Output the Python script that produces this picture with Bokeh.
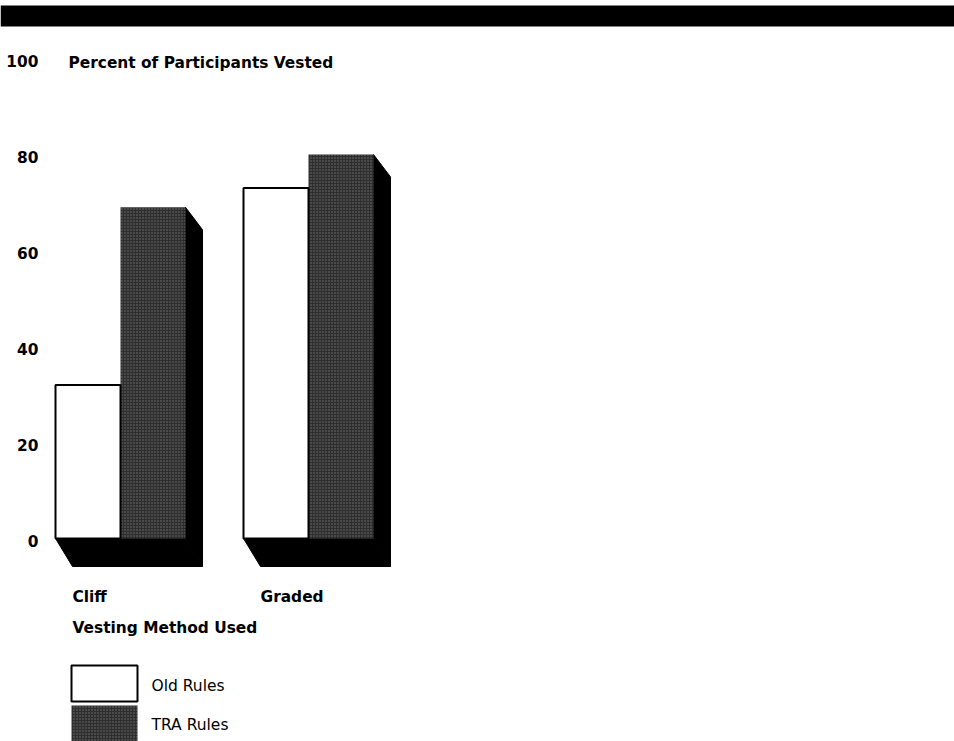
from bokeh.plotting import figure
from bokeh.models import Range1d
from bokeh.core.properties import value
from bokeh.embed import file_html
from bokeh.resources import INLINE

# ---- data ----
categories = ["Cliff", "Graded"]
old_rules = [32, 73]
tra_rules = [69, 80]
series_names = ["Old Rules", "TRA Rules"]
y_ticks = [0, 20, 40, 60, 80, 100]
y_tick_labels = ["0", "20", "40", "60", "80", "100"]
title_text = "Percent of Participants Vested"
x_title = "Vesting Method Used"

# ---- layout constants (pixels) ----
W, H = 954, 741
PX_PER_UNIT = 4.8
ZERO_PX = 538  # pixel row of value 0 (from top)
def py(pix):  # pixel row -> data value
    return (ZERO_PX - pix) / PX_PER_UNIT

group_left = [55, 243]
bar_w = 65
depth_dx = 17
depth_dy = 28 / PX_PER_UNIT

FONT = value("DejaVu Sans")

p = figure(width=W, height=H, output_backend="svg", toolbar_location=None,
           x_range=Range1d(0, W), y_range=Range1d(py(H), py(0)),
           x_axis_type=None, y_axis_type=None, min_border=0,
           outline_line_color=None, background_fill_color="white",
           border_fill_color="white")
p.grid.visible = False

# top black band
p.quad(left=[0], right=[W], bottom=[py(26)], top=[py(5)],
       fill_color="black", line_color=None)

TRA_FILL = dict(fill_color="#2e2e2e", hatch_pattern="dot", hatch_color="#b8b8b8",
                hatch_scale=3, hatch_weight=1, hatch_alpha=0.5, line_color=None)

for i, cat in enumerate(categories):
    L = group_left[i]
    M = L + bar_w
    R = M + bar_w
    o, t = old_rules[i], tra_rules[i]
    # floor + side (black 3D parts)
    p.patch([L, R, R + depth_dx, L + depth_dx], [0, 0, -depth_dy, -depth_dy],
            fill_color="black", line_color="black")
    p.patch([R, R + depth_dx, R + depth_dx, R], [t, t - depth_dy * 0.8, -depth_dy, 0],
            fill_color="black", line_color="black")
    # front faces
    p.quad(left=[M], right=[R], bottom=[0], top=[t], **TRA_FILL)
    p.quad(left=[L], right=[M], bottom=[0], top=[o],
           fill_color="white", line_color="black", line_width=2)

BOLD = dict(text_font=FONT, text_font_style="bold", text_font_size="15.4px",
            text_baseline="middle", text_color="black")

# y tick labels
p.text(x=[38] * len(y_ticks), y=[py(540 - v * PX_PER_UNIT) for v in y_ticks],
       text=y_tick_labels, text_align="right", **BOLD)

# chart title next to 100
p.text(x=[68], y=[py(62)], text=[title_text], text_align="left", **BOLD)

# category labels
cat_x = [72, 260]
p.text(x=cat_x, y=[py(596)] * 2, text=categories, text_align="left", **BOLD)
p.text(x=[72], y=[py(627)], text=[x_title], text_align="left", **BOLD)

# legend
p.quad(left=[71], right=[137], bottom=[py(701)], top=[py(665)],
       fill_color="white", line_color="black", line_width=2)
p.quad(left=[71], right=[137], bottom=[py(741)], top=[py(705)], **TRA_FILL)
p.text(x=[151, 151], y=[py(685), py(724)], text=series_names, text_font=FONT,
       text_font_size="15.5px", text_align="left", text_baseline="middle")

open("out.html", "w").write(file_html(p, INLINE))
